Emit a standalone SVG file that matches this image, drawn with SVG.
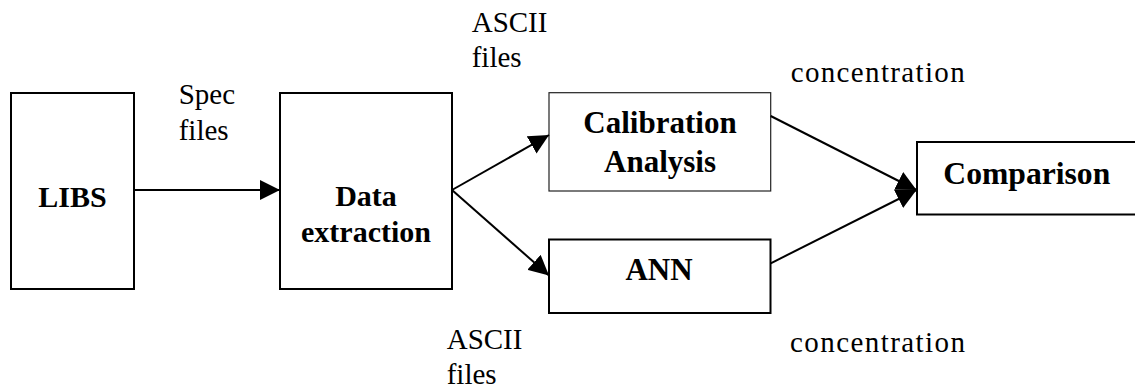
<svg xmlns="http://www.w3.org/2000/svg" width="1135" height="389" viewBox="0 0 1135 389">
  <style>
    .box { fill: #ffffff; stroke: #000000; stroke-width: 2; }
    .box-thin { fill: #ffffff; stroke: #222222; stroke-width: 1.2; }
    .label { font-family: "Liberation Serif", "Times New Roman", serif; font-size: 31px; font-weight: bold; fill: #000000; text-anchor: middle; }
    .label-sm { font-size: 30px; }
    .note { font-family: "Liberation Serif", "Times New Roman", serif; font-size: 29px; fill: #000000; }
    .wire { fill: none; stroke: #000000; stroke-width: 2; marker-end: url(#head); }
  </style>
  <defs>
    <marker id="head" viewBox="0 0 20 20" refX="20" refY="10" markerWidth="20" markerHeight="20" markerUnits="userSpaceOnUse" orient="auto">
      <path d="M0,0 L20,10 L0,20 Z" fill="#000000"/>
    </marker>
  </defs>

  <rect width="1135" height="389" fill="#ffffff"/>

  <g id="node-libs">
    <rect class="box" x="11" y="93" width="123" height="196"/>
    <text class="label label-sm" x="72.5" y="206.5">LIBS</text>
  </g>

  <g id="node-extraction">
    <rect class="box" x="280" y="93" width="172" height="196"/>
    <text class="label label-sm" x="366" y="205.5">Data</text>
    <text class="label label-sm" x="366" y="241.5">extraction</text>
  </g>

  <g id="node-calibration">
    <rect class="box-thin" x="549" y="92.7" width="221.7" height="98.3"/>
    <text class="label" x="660" y="133.3">Calibration</text>
    <text class="label" x="660" y="171.7">Analysis</text>
  </g>

  <g id="node-ann">
    <rect class="box" x="549" y="239.5" width="221.5" height="73.5"/>
    <text class="label" x="659" y="280">ANN</text>
  </g>

  <g id="node-comparison">
    <rect class="box" x="917" y="142" width="230" height="72.5"/>
    <text class="label" x="943.3" y="184" style="text-anchor:start" textLength="167" lengthAdjust="spacingAndGlyphs">Comparison</text>
  </g>

  <g id="connectors">
    <path class="wire" d="M134,190 L280,190"/>
    <path class="wire" d="M452,190 L549,135"/>
    <path class="wire" d="M452,190 L549,275.5"/>
    <path class="wire" d="M770.7,116 L916.5,190"/>
    <path class="wire" d="M770.7,263.3 L916.5,190"/>
  </g>

  <g id="edge-labels">
    <text class="note" x="178.7" y="104.3">Spec</text>
    <text class="note" x="178.7" y="140">files</text>
    <text class="note" x="471.7" y="31.7">ASCII</text>
    <text class="note" x="471.7" y="66.7">files</text>
    <text class="note" x="790.7" y="81.7" textLength="174" lengthAdjust="spacing">concentration</text>
    <text class="note" x="446.7" y="349.3">ASCII</text>
    <text class="note" x="446.7" y="384.3">files</text>
    <text class="note" x="790" y="352" textLength="175" lengthAdjust="spacing">concentration</text>
  </g>
</svg>
